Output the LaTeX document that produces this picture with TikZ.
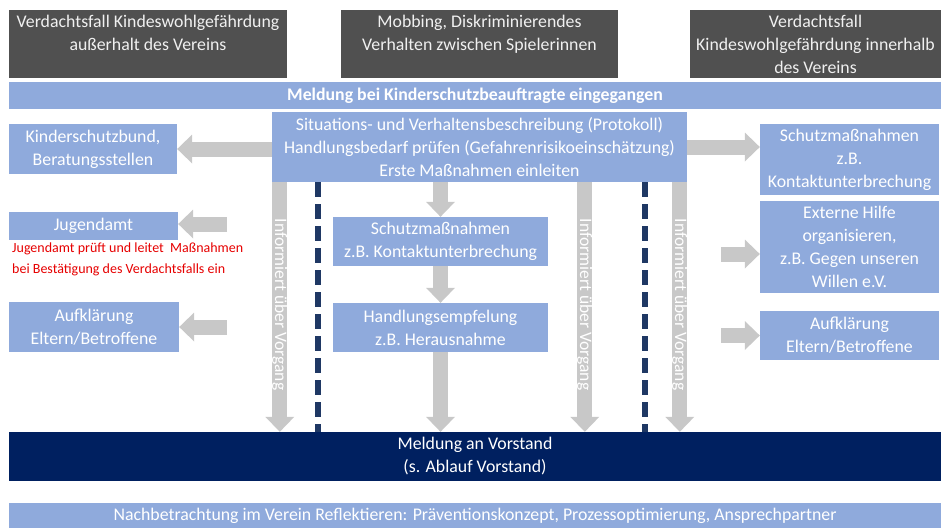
\documentclass[tikz,border=0pt]{standalone}
\usepackage{fontspec}
\setmainfont{Carlito}
\usetikzlibrary{arrows.meta}

\definecolor{topgray}{RGB}{80,80,80}
\definecolor{toptext}{RGB}{240,240,240}
\definecolor{boxblue}{RGB}{143,170,220}
\definecolor{arrowgray}{RGB}{200,200,200}
\definecolor{vorstandblue}{RGB}{0,32,96}
\definecolor{dashblue}{RGB}{31,56,100}
\definecolor{hinweisred}{RGB}{230,0,0}

\tikzset{
  topbox/.style={fill=topgray, minimum height=68pt, inner sep=0pt},
  toptxt/.style={text=toptext, align=center, anchor=north, inner sep=0pt},
  bluebox/.style={fill=boxblue, text=white, align=center, inner sep=0pt},
  bigarrow/.style={draw=arrowgray, line width=15pt,
    -{Triangle[width=29pt,length=15pt,line width=0pt]}},
  trennlinie/.style={draw=dashblue, line width=6pt, dash pattern=on 15pt off 7pt},
}

\begin{document}
\begin{tikzpicture}[x=1pt, y=-1pt, font=\fontsize{17.8}{23}\selectfont]
  \useasboundingbox (0,0) rectangle (941,528);

  % Ausloeser
  \node[topbox, minimum width=278pt] (fall1) at (148,44) {};
  \node[topbox, minimum width=277pt] (mobbing) at (479.5,44) {};
  \node[topbox, minimum width=251pt] (fall2) at (815.5,44) {};
  \node[toptxt] (fall1txt) at ([yshift=-5.5pt]fall1.north)
    {Verdachtsfall Kindeswohlgefährdung\\außerhalt des Vereins};
  \node[toptxt] (mobbingtxt) at ([yshift=-5.5pt]mobbing.north)
    {Mobbing, Diskriminierendes\\Verhalten zwischen Spielerinnen};
  \node[toptxt] (fall2txt) at ([yshift=-5.5pt]fall2.north)
    {Verdachtsfall\\Kindeswohlgefährdung innerhalb\\des Vereins};

  \node[bluebox, minimum width=932pt, minimum height=27pt, font=\fontsize{17.8}{23}\selectfont\bfseries]
    (meldung) at (475,95.5) {Meldung bei Kinderschutzbeauftragte eingegangen};

  % Mitte
  \node[bluebox, minimum width=415pt, minimum height=70pt] (protokoll) at (479.5,147)
    {Situations- und Verhaltensbeschreibung (Protokoll)\\Handlungsbedarf prüfen (Gefahrenrisikoeinschätzung)\\Erste Maßnahmen einleiten};
  \node[bluebox, minimum width=215pt, minimum height=49pt] (schutzmitte) at (440.5,241.5)
    {Schutzmaßnahmen\\z.B. Kontaktunterbrechung};
  \node[bluebox, minimum width=215pt, minimum height=49pt] (empfehlung) at (440.5,327.5)
    {Handlungsempfelung\\z.B. Herausnahme};

  % links
  \node[bluebox, minimum width=168pt, minimum height=50pt] (kinderschutz) at (93,149)
    {Kinderschutzbund,\\Beratungsstellen};
  \node[bluebox, minimum width=169pt, minimum height=28pt] (jugendamt) at (93.5,226) {Jugendamt};
  \node[text=hinweisred, align=left, anchor=north west, inner sep=0pt,
    font=\fontsize{14}{21}\selectfont] (hinweis) at (12,243)
    {Jugendamt prüft und leitet \ Maßnahmen\\bei Bestätigung des Verdachtsfalls ein};
  \node[bluebox, minimum width=170pt, minimum height=50pt] (aufklaerunglinks) at (94,327)
    {Aufklärung\\Eltern/Betroffene};

  % rechts
  \node[bluebox, minimum width=179pt, minimum height=71pt] (schutzrechts) at (849.5,159.5)
    {Schutzmaßnahmen\\z.B.\\Kontaktunterbrechung};
  \node[bluebox, minimum width=179pt, minimum height=92pt] (hilfe) at (849.5,247)
    {Externe Hilfe\\organisieren,\\z.B. Gegen unseren\\Willen e.V.};
  \node[bluebox, minimum width=179pt, minimum height=49pt] (aufklaerungrechts) at (849.5,335.5)
    {Aufklärung\\Eltern/Betroffene};

  % unten
  \node[fill=vorstandblue, text=white, align=center, inner sep=0pt,
    minimum width=932pt, minimum height=49pt] (vorstand) at (475,456.5)
    {Meldung an Vorstand\\(s. Ablauf Vorstand)};
  \node[bluebox, minimum width=932pt, minimum height=25pt] (nachbetrachtung) at (475,515.5)
    {Nachbetrachtung im Verein Reflektieren: Präventionskonzept, Prozessoptimierung, Ansprechpartner};

  % Pfeile
  \coordinate (jugendamtpfeil) at (227,224);
  \coordinate (aufklpfeil) at (227,327);
  \coordinate (hilfepfeil) at (721,254);
  \coordinate (aufkrpfeil) at (721,335.5);
  \draw[bigarrow] (protokoll.west |- kinderschutz) -- (kinderschutz.east);
  \draw[bigarrow] (jugendamtpfeil) -- (jugendamtpfeil -| jugendamt.east);
  \draw[bigarrow] (aufklpfeil) -- (aufklaerunglinks.east);
  \draw[bigarrow] (protokoll.east) -- (protokoll.east -| schutzrechts.west);
  \draw[bigarrow] (hilfepfeil) -- (hilfepfeil -| hilfe.west);
  \draw[bigarrow] (aufkrpfeil) -- (aufklaerungrechts.west);

  \draw[bigarrow] (schutzmitte.north |- protokoll.south) -- (schutzmitte.north);
  \draw[bigarrow] (schutzmitte.south) -- (empfehlung.north);
  \draw[bigarrow] (empfehlung.south) -- (empfehlung.south |- vorstand.north);

  \foreach \dx in {8,313,408} {
    \path ([xshift=\dx pt]protokoll.south west) coordinate (start);
    \draw[bigarrow] (start) -- (start |- vorstand.north)
      node[pos=0.49, rotate=-90, text=white, inner sep=0pt,
        font=\fontsize{17.5}{22}\selectfont] {Informiert über Vorgang};
  }
  \foreach \dx in {46,373} {
    \path ([xshift=\dx pt]protokoll.south west) coordinate (start);
    \draw[trennlinie] (start) -- (start |- vorstand.north);
  }
\end{tikzpicture}
\end{document}
